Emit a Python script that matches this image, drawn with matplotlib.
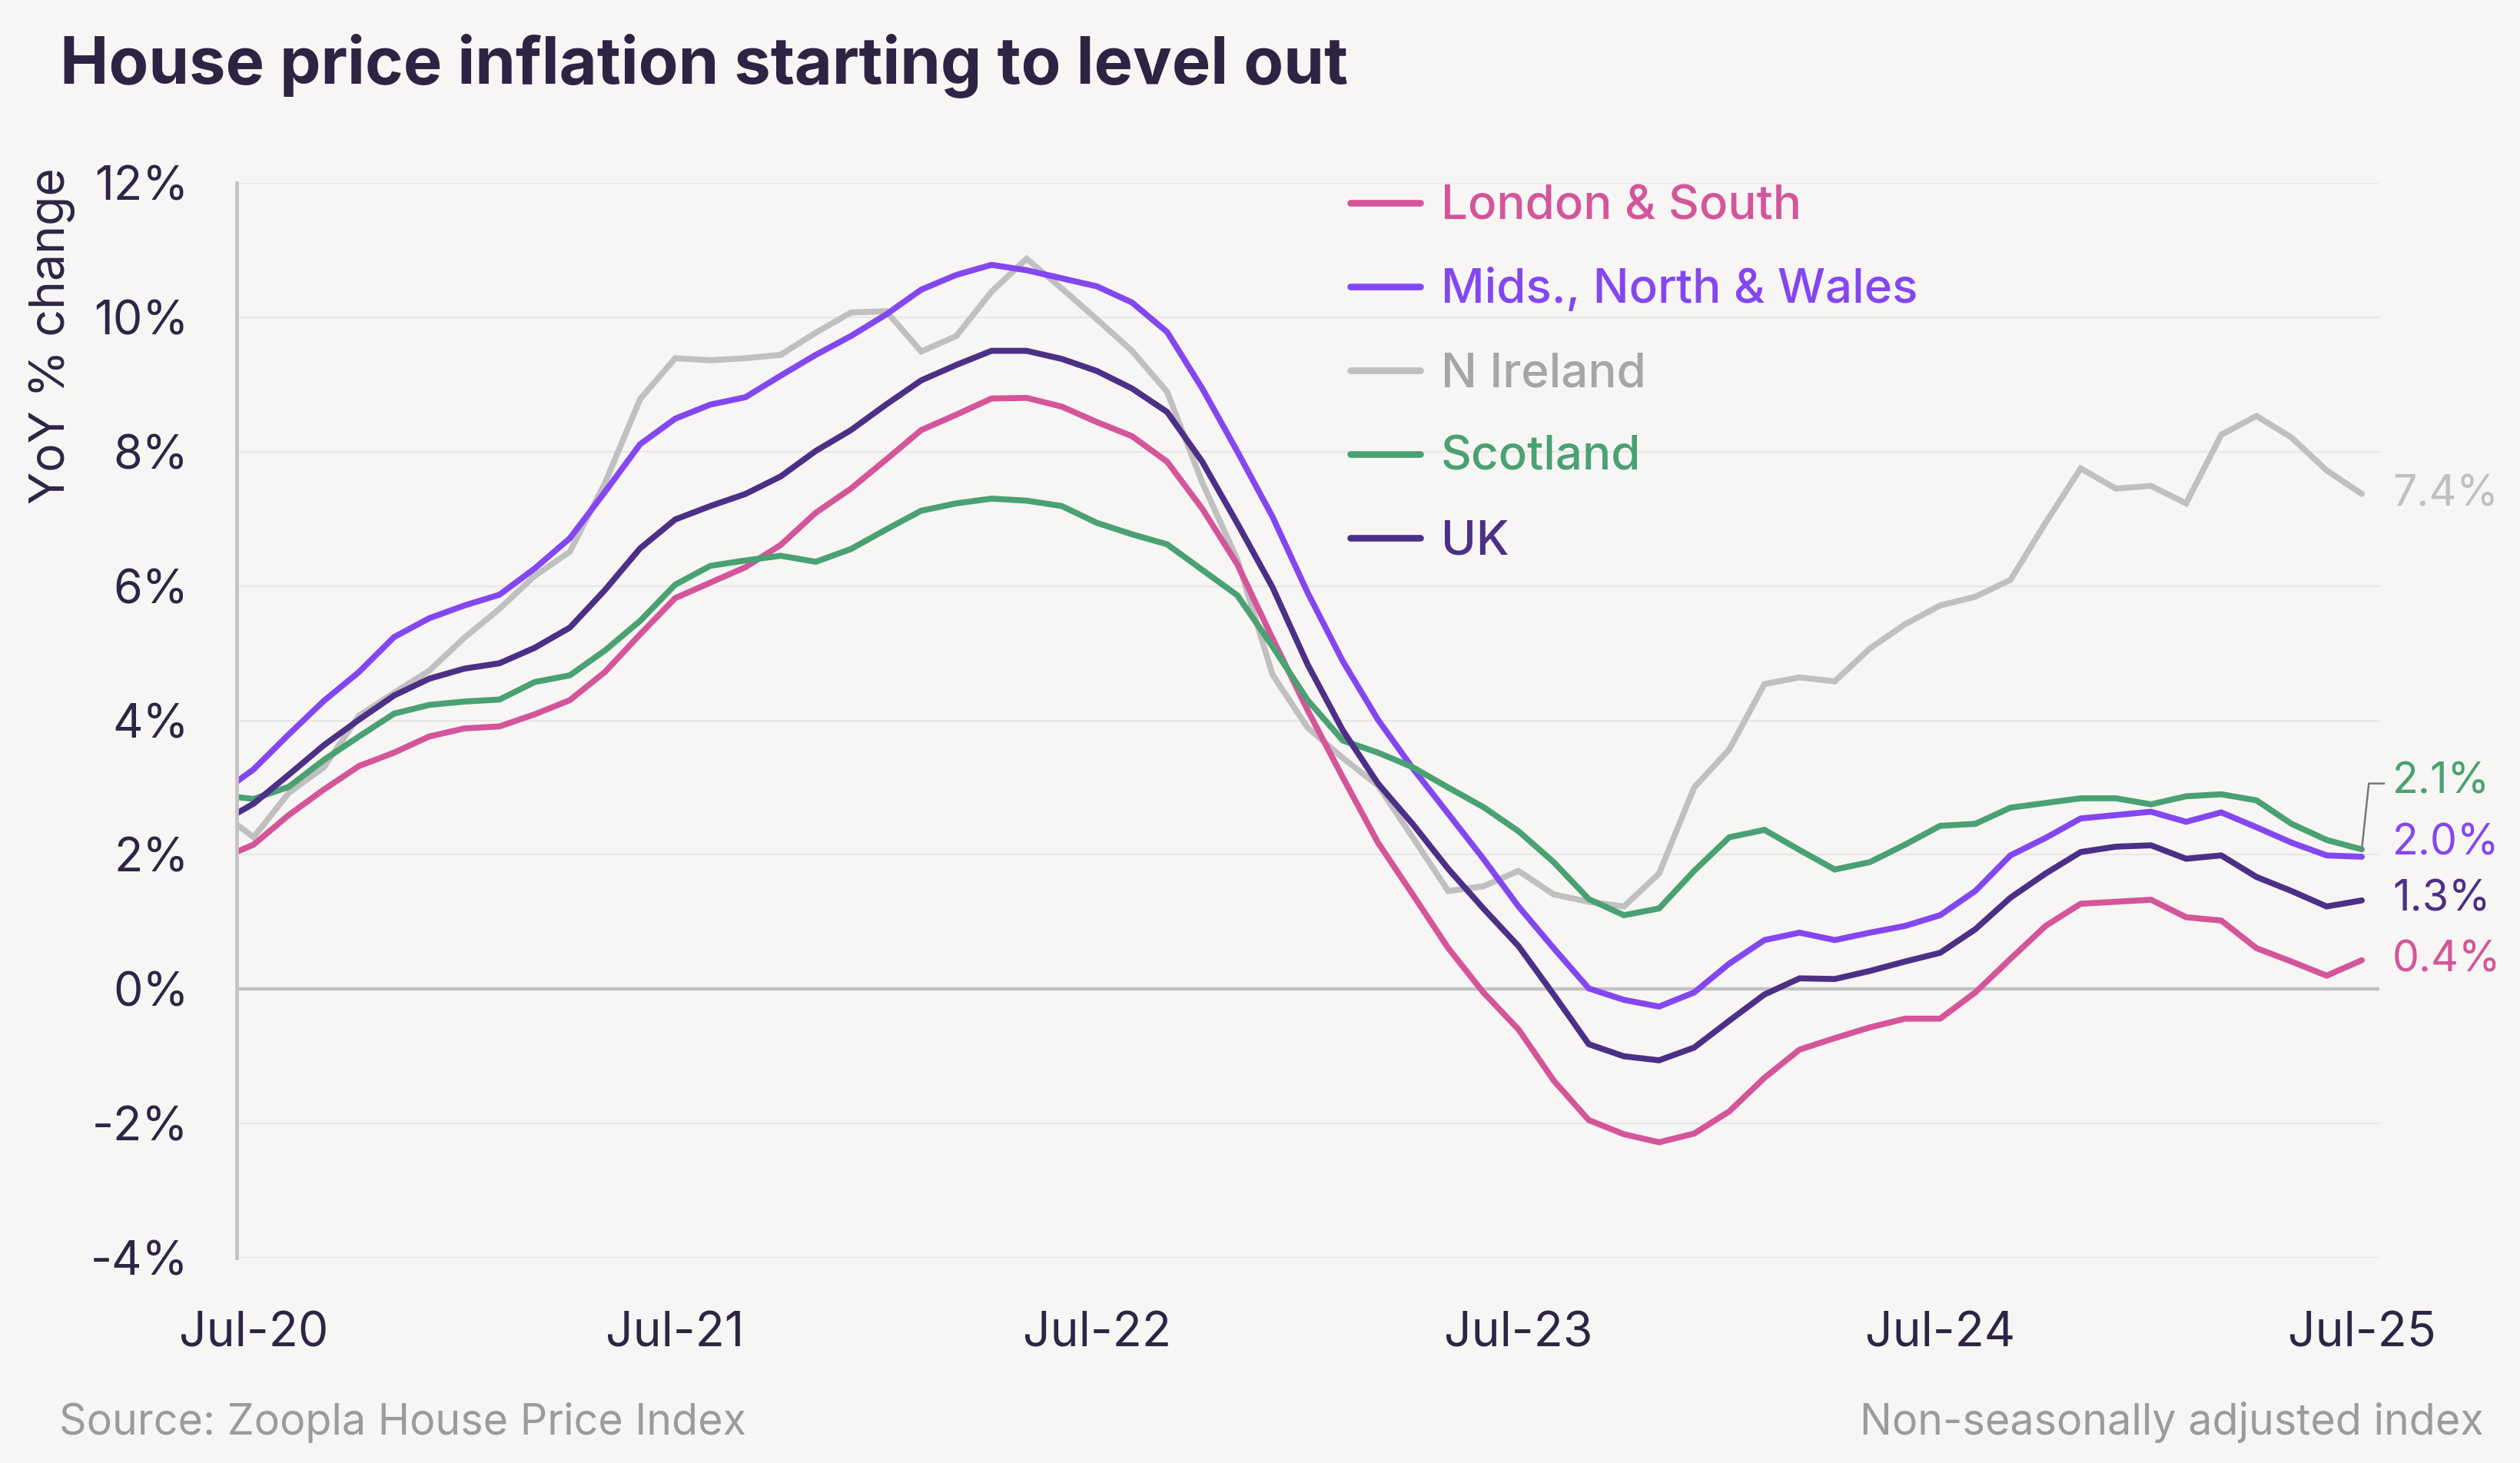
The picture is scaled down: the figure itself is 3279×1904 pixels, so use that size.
import matplotlib
matplotlib.use("Agg")
import matplotlib.pyplot as plt
from matplotlib.lines import Line2D
import numpy as np

# ---------------- data ----------------
months = ["Jun-20",
          "Jul-20", "Aug-20", "Sep-20", "Oct-20", "Nov-20", "Dec-20",
          "Jan-21", "Feb-21", "Mar-21", "Apr-21", "May-21", "Jun-21",
          "Jul-21", "Aug-21", "Sep-21", "Oct-21", "Nov-21", "Dec-21",
          "Jan-22", "Feb-22", "Mar-22", "Apr-22", "May-22", "Jun-22",
          "Jul-22", "Aug-22", "Sep-22", "Oct-22", "Nov-22", "Dec-22",
          "Jan-23", "Feb-23", "Mar-23", "Apr-23", "May-23", "Jun-23",
          "Jul-23", "Aug-23", "Sep-23", "Oct-23", "Nov-23", "Dec-23",
          "Jan-24", "Feb-24", "Mar-24", "Apr-24", "May-24", "Jun-24",
          "Jul-24", "Aug-24", "Sep-24", "Oct-24", "Nov-24", "Dec-24",
          "Jan-25", "Feb-25", "Mar-25", "Apr-25", "May-25", "Jun-25",
          "Jul-25"]

london_south = [1.93,
    2.15, 2.59, 2.97, 3.32, 3.52, 3.76, 3.88, 3.91, 4.09, 4.30, 4.72, 5.28,
    5.82, 6.05, 6.28, 6.61, 7.09, 7.45, 7.88, 8.32, 8.55, 8.79, 8.80, 8.67,
    8.44, 8.23, 7.85, 7.15, 6.32, 5.22, 4.15, 3.15, 2.18, 1.40, 0.61, -0.05,
    -0.60, -1.36, -1.95, -2.16, -2.28, -2.15, -1.82, -1.32, -0.90, -0.73, -0.57, -0.44,
    -0.44, -0.05, 0.45, 0.94, 1.27, 1.30, 1.33, 1.07, 1.02, 0.61, 0.41, 0.20,
    0.43]

mids_north_wales = [2.89,
    3.27, 3.79, 4.29, 4.72, 5.24, 5.52, 5.71, 5.87, 6.26, 6.71, 7.40, 8.11,
    8.49, 8.70, 8.81, 9.13, 9.44, 9.72, 10.04, 10.41, 10.63, 10.78, 10.70, 10.58,
    10.46, 10.22, 9.78, 8.94, 8.00, 7.03, 5.90, 4.88, 4.01, 3.28, 2.61, 1.94,
    1.23, 0.61, 0.01, -0.16, -0.26, -0.05, 0.38, 0.73, 0.84, 0.73, 0.84, 0.94,
    1.10, 1.46, 1.99, 2.25, 2.54, 2.59, 2.64, 2.49, 2.63, 2.41, 2.18, 1.99,
    1.97]

n_ireland = [2.66,
    2.26, 2.92, 3.30, 4.07, 4.41, 4.74, 5.23, 5.66, 6.15, 6.51, 7.53, 8.78,
    9.39, 9.36, 9.39, 9.44, 9.77, 10.07, 10.09, 9.49, 9.72, 10.38, 10.87, 10.43,
    9.97, 9.50, 8.89, 7.54, 6.39, 4.68, 3.89, 3.44, 3.03, 2.25, 1.46, 1.53,
    1.76, 1.41, 1.30, 1.23, 1.72, 3.00, 3.57, 4.54, 4.64, 4.58, 5.07, 5.43,
    5.71, 5.84, 6.09, 6.94, 7.75, 7.45, 7.49, 7.23, 8.25, 8.53, 8.21, 7.72,
    7.37]

scotland = [2.89,
    2.83, 3.01, 3.41, 3.76, 4.10, 4.23, 4.28, 4.31, 4.57, 4.67, 5.04, 5.48,
    6.02, 6.30, 6.38, 6.45, 6.36, 6.55, 6.84, 7.12, 7.23, 7.30, 7.27, 7.19,
    6.94, 6.77, 6.62, 6.24, 5.86, 5.10, 4.30, 3.70, 3.52, 3.30, 3.00, 2.71,
    2.35, 1.89, 1.34, 1.10, 1.20, 1.76, 2.26, 2.37, 2.07, 1.78, 1.89, 2.15,
    2.43, 2.46, 2.70, 2.77, 2.84, 2.84, 2.75, 2.87, 2.90, 2.81, 2.46, 2.22,
    2.08]

uk = [2.46,
    2.76, 3.19, 3.63, 4.01, 4.37, 4.62, 4.77, 4.85, 5.08, 5.38, 5.94, 6.56,
    6.99, 7.19, 7.37, 7.63, 8.01, 8.32, 8.70, 9.06, 9.29, 9.50, 9.50, 9.38,
    9.20, 8.94, 8.59, 7.85, 6.93, 5.98, 4.83, 3.85, 3.06, 2.45, 1.79, 1.20,
    0.64, -0.08, -0.82, -1.00, -1.06, -0.87, -0.47, -0.08, 0.16, 0.15, 0.27, 0.41,
    0.54, 0.89, 1.36, 1.72, 2.04, 2.12, 2.14, 1.94, 1.99, 1.67, 1.46, 1.23,
    1.32]

series_names = ["London & South", "Mids., North & Wales", "N Ireland", "Scotland", "UK"]
y_ticks = [-4, -2, 0, 2, 4, 6, 8, 10, 12]
x_tick_labels = ["Jul-20", "Jul-21", "Jul-22", "Jul-23", "Jul-24", "Jul-25"]

# ---------------- style ----------------
W, H = 3280, 1904
DPI = 200
BG = "#f7f6f4"
DARK = "#2d2545"
colors = {
    "London & South": "#d4559a",
    "Mids., North & Wales": "#8447ef",
    "N Ireland": "#c0c0c0",
    "Scotland": "#4aa172",
    "UK": "#4c2f86",
}
legend_text_colors = dict(colors)
legend_text_colors["N Ireland"] = "#a6a6a6"

FONT = "Inter"
plt.rcParams["font.family"] = [FONT, "DejaVu Sans"]

fig = plt.figure(figsize=(W / DPI, H / DPI), dpi=DPI, facecolor=BG)
ax = fig.add_axes([308 / W, 1 - 1637 / H, (3096 - 308) / W, (1637 - 238) / H])
ax.set_facecolor(BG)

x = np.arange(len(months)) - 1  # Jul-20 -> 0
data = {
    "London & South": london_south,
    "Mids., North & Wales": mids_north_wales,
    "N Ireland": n_ireland,
    "Scotland": scotland,
    "UK": uk,
}

# gridlines
for t in y_ticks:
    if t == 0:
        ax.axhline(0, color="#c2c2c2", lw=1.6, zorder=1)
    else:
        ax.axhline(t, color="#e8e7e5", lw=0.8, zorder=0)

draw_order = ["N Ireland", "London & South", "Mids., North & Wales", "Scotland", "UK"]
for name in draw_order:
    ax.plot(x, data[name], color=colors[name], lw=2.8, zorder=3,
            solid_joinstyle="miter", solid_capstyle="round", clip_on=True)

ax.set_xlim(-0.48, 60.5)
ax.set_ylim(-4, 12)

for s in ["top", "right", "bottom"]:
    ax.spines[s].set_visible(False)
ax.spines["left"].set_color("#c2c2c2")
ax.spines["left"].set_linewidth(1.7)
ax.spines["left"].set_zorder(4)

ax.set_yticks(y_ticks)
ax.set_yticklabels([f"{t}%" for t in y_ticks])
ax.set_xticks([months.index(l) - 1 for l in x_tick_labels])
ax.set_xticklabels(x_tick_labels)
ax.tick_params(axis="y", length=0, pad=22.5, labelsize=22, labelcolor=DARK)
ax.tick_params(axis="x", length=0, pad=25, labelsize=22.5, labelcolor=DARK)

# y label
fig.text(68 / W, 1 - 437 / H, "YoY % change", rotation=90, ha="center", va="center",
         fontsize=22.5, color=DARK)

# title
fig.text(78 / W, 1 - 109 / H, "House price inflation starting to level out",
         ha="left", va="baseline", fontsize=30.5, fontweight="bold", color="#2d2444")

# footer
fig.text(77 / W, 1 - 1867 / H, "Source: Zoopla House Price Index", ha="left",
         va="baseline", fontsize=20, color="#9b9b9b")
fig.text(3232 / W, 1 - 1867 / H, "Non-seasonally adjusted index", ha="right",
         va="baseline", fontsize=20, color="#9b9b9b")

# legend (manual)
row_y = [264, 373, 482, 591, 700]
for name, yy in zip(series_names, row_y):
    fig.add_artist(Line2D([1757 / W, 1848 / W], [1 - yy / H] * 2, transform=fig.transFigure,
                          color=colors[name], lw=3.1, solid_capstyle="round"))
    fig.text(1875 / W, 1 - (yy + 21) / H, name, ha="left", va="baseline",
             fontsize=22.3, fontweight="medium", color=legend_text_colors[name])

# end labels
label_y = {"N Ireland": 7.36, "Scotland": 3.08, "Mids., North & Wales": 2.17,
           "UK": 1.33, "London & South": 0.43}
for name, ly in label_y.items():
    val = data[name][-1]
    ax.text(60.87, ly, f"{val:.1f}%", ha="left", va="center", fontsize=20,
            color=colors[name], clip_on=False)

# connector for Scotland label
ax.plot([x[-1], x[-1] + 0.2, x[-1] + 0.63],
        [data["Scotland"][-1], 3.06, 3.06], color="#777777", lw=0.9,
        clip_on=False, zorder=5)

fig.savefig("out.png", dpi=DPI, facecolor=BG)
